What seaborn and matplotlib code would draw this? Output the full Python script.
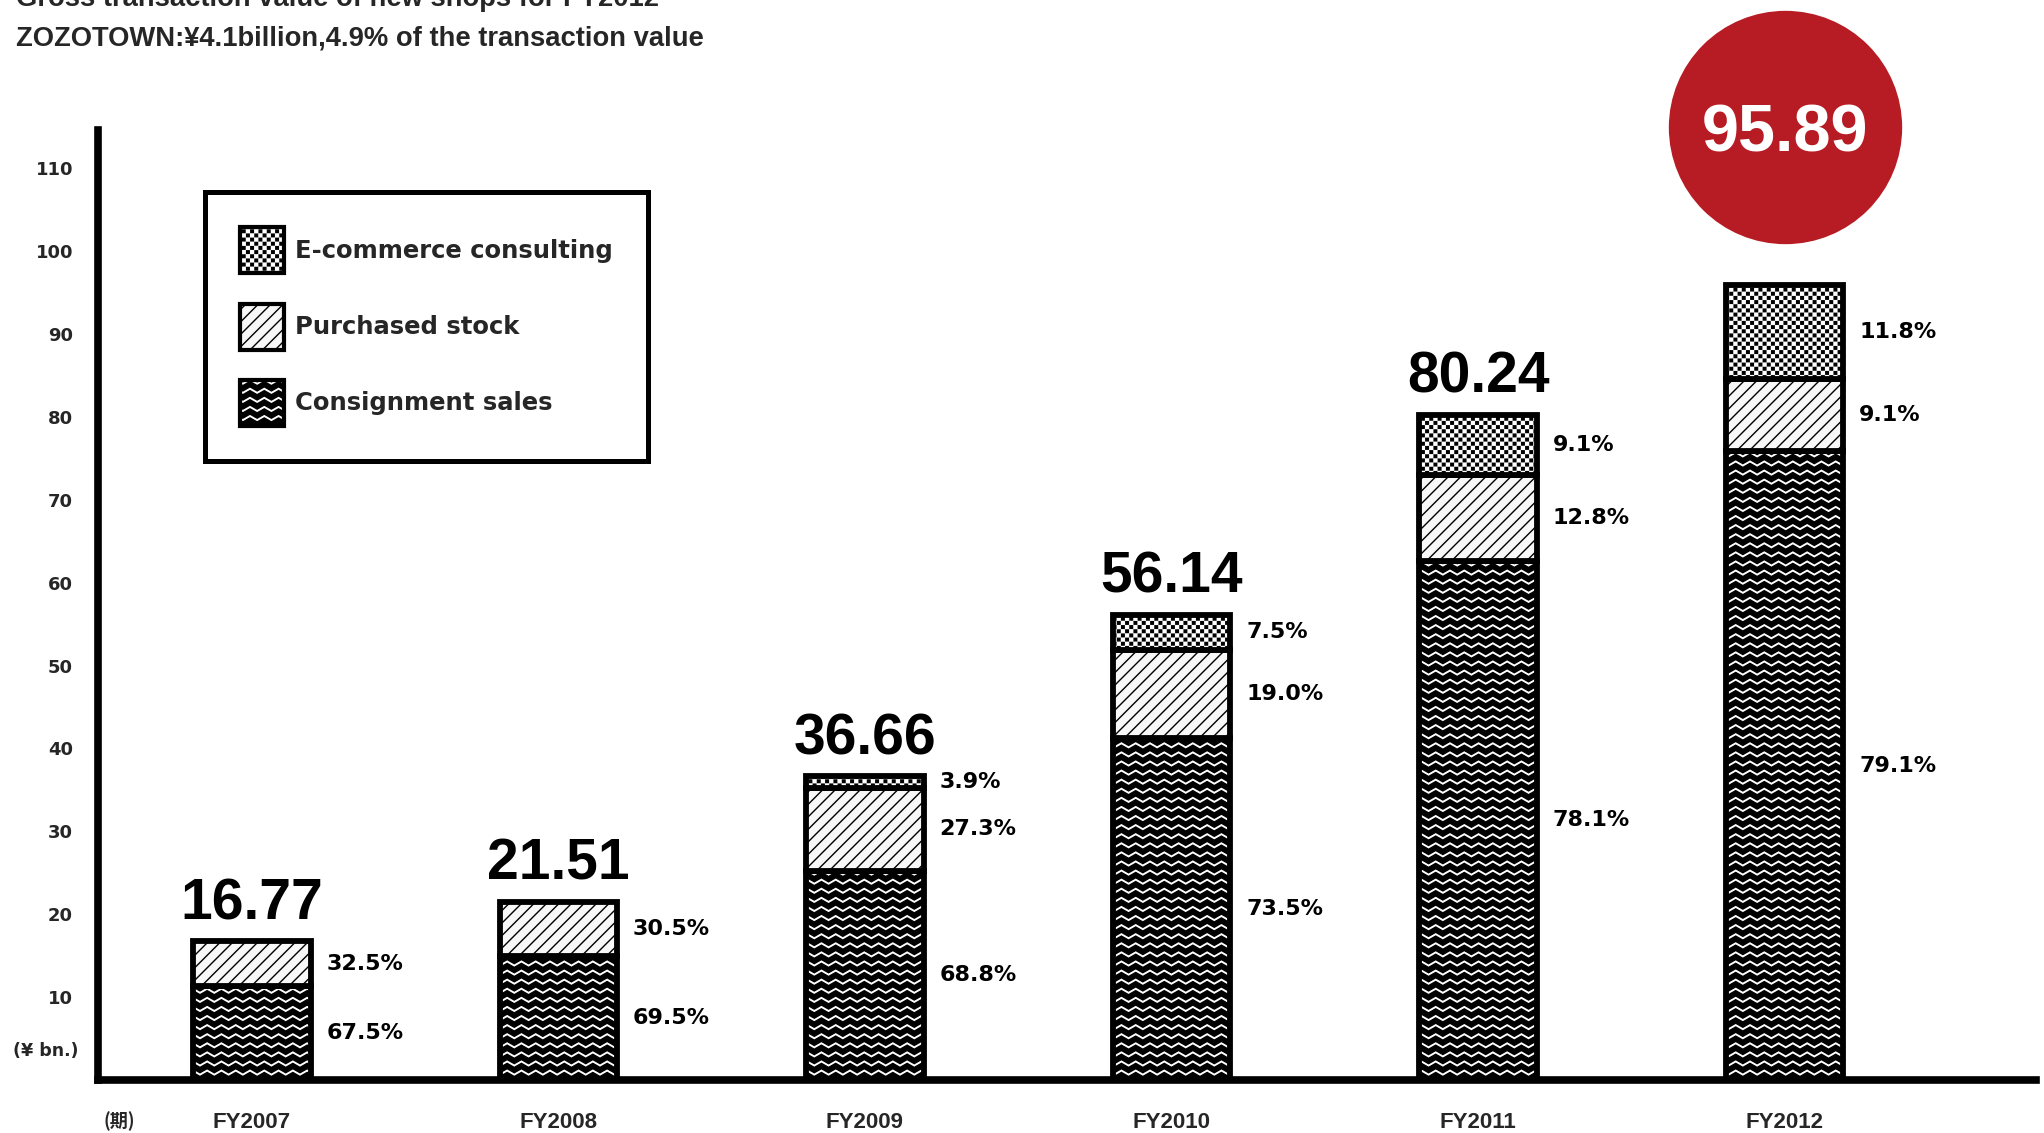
import numpy as np
import pandas as pd
import matplotlib
matplotlib.use("Agg")
import matplotlib.pyplot as plt
import matplotlib.hatch as mhatch
import matplotlib.patches as mpatches
from matplotlib.path import Path
from matplotlib import font_manager as fm
import seaborn as sns

# ---------------------------------------------------------------- data
years = ["FY2007", "FY2008", "FY2009", "FY2010", "FY2011", "FY2012"]
totals = [16.77, 21.51, 36.66, 56.14, 80.24, 95.89]          # ¥ bn.
consignment_pct = [67.5, 69.5, 68.8, 73.5, 78.1, 79.1]
purchased_pct = [32.5, 30.5, 27.3, 19.0, 12.8, 9.1]
ecommerce_pct = [0.0, 0.0, 3.9, 7.5, 9.1, 11.8]
y_ticks = [10, 20, 30, 40, 50, 60, 70, 80, 90, 100, 110]
segment_names = ["Consignment sales", "Purchased stock", "E-commerce consulting"]
title_lines = ["Gross transaction value of new shops for FY2012",
               "ZOZOTOWN:\u00a54.1billion,4.9% of the transaction value"]
unit_label = "(\u00a5 bn.)"
period_label = "(期)"


# ---------------------------------------------------------------- custom hatch patterns
class ZigzagHatch(mhatch.HatchPatternBase):
    """'*' -> filled chevron bands (consignment sales)."""
    def __init__(self, hatch, density):
        self.polys = []
        if hatch.count("*"):
            cols, rows = 7, 11
            pv = 1.0 / rows
            amp, thick = 0.45 * pv, 0.58 * pv
            xs = np.linspace(0, 1, 2 * cols + 1)
            zig = np.where(np.arange(2 * cols + 1) % 2 == 0, 0.0, amp)
            for j in range(-1, rows + 1):
                base = j * pv
                lower = np.column_stack([xs, base + zig])
                upper = np.column_stack([xs[::-1], base + zig[::-1] + thick])
                self.polys.append(np.vstack([lower, upper, lower[:1]]))
        self.num_vertices = sum(len(p) for p in self.polys)

    def set_vertices_and_codes(self, vertices, codes):
        cur = 0
        for p in self.polys:
            k = len(p)
            vertices[cur:cur + k] = p
            codes[cur] = Path.MOVETO
            codes[cur + 1:cur + k - 1] = Path.LINETO
            codes[cur + k - 1] = Path.CLOSEPOLY
            cur += k


class CheckerHatch(mhatch.HatchPatternBase):
    """'.' -> small checkerboard squares (e-commerce consulting)."""
    def __init__(self, hatch, density):
        self.polys = []
        if hatch.count("."):
            n = 12
            cell = 1.0 / n
            half = cell / 2
            s = 0.026
            for i in range(n):
                for j in range(2 * n):
                    x0 = i * cell + (half if j % 2 else 0.0) + (half - s) / 2
                    y0 = j * half + (half - s) / 2
                    self.polys.append(np.array([[x0, y0], [x0 + s, y0], [x0 + s, y0 + s],
                                                [x0, y0 + s], [x0, y0]]))
        self.num_vertices = sum(len(p) for p in self.polys)

    set_vertices_and_codes = ZigzagHatch.set_vertices_and_codes


class DiagonalHatch(mhatch.HatchPatternBase):
    """'o' -> thin 45 degree lines (purchased stock)."""
    def __init__(self, hatch, density):
        self.n = 8 if hatch.count("o") else 0
        self.num_vertices = (2 * self.n + 1) * 2 if self.n else 0

    def set_vertices_and_codes(self, vertices, codes):
        offs = np.arange(-self.n, self.n + 1) / self.n
        vertices[0::2, 0] = offs
        vertices[0::2, 1] = 0.0
        vertices[1::2, 0] = offs + 1.0
        vertices[1::2, 1] = 1.0
        codes[0::2] = Path.MOVETO
        codes[1::2] = Path.LINETO


mhatch._hatch_types[:] = [t for t in mhatch._hatch_types
                          if t.__name__ not in ("Stars", "SmallFilledCircles", "SmallCircles")]
mhatch._hatch_types.extend([ZigzagHatch, CheckerHatch, DiagonalHatch])

# ---------------------------------------------------------------- fonts
_names = {f.name for f in fm.fontManager.ttflist}
if "Liberation Sans Narrow" in _names:
    NARROW, WSCALE = "Liberation Sans Narrow", 1.0
else:
    NARROW, WSCALE = "Liberation Sans", 0.82

sns.set_style("white")
plt.rcParams["font.family"] = ["DejaVu Sans"]
plt.rcParams["hatch.linewidth"] = 1.0
plt.rcParams["hatch.color"] = "black"

W, H = 2044, 1133
fig = plt.figure(figsize=(W / 100, H / 100), dpi=100)
ax = fig.add_axes([98 / W, 53 / H, (2036 - 98) / W, 950 / H])

# ---------------------------------------------------------------- stacked bars
segments = [
    (segment_names[0], consignment_pct, "*", "white"),
    (segment_names[1], purchased_pct, "o", "#f8f8f8"),
    (segment_names[2], ecommerce_pct, ".", "white"),
]
tot = np.array(totals)
bottom = np.zeros(len(years))
for name, pcts, hatch, face in segments:
    pct = np.array(pcts)
    heights = tot * pct / 100.0
    mask = heights > 0
    df = pd.DataFrame({"year": np.array(years)[mask], "value": heights[mask]})
    sns.barplot(data=df, x="year", y="value", order=years, width=0.383,
                bottom=bottom[mask], color=face, saturation=1, errorbar=None,
                hatch=hatch, edgecolor="black", linewidth=4.2, ax=ax, zorder=3)
    for i in np.where(mask)[0]:
        ax.text(i + 0.243, bottom[i] + heights[i] / 2, f"{pct[i]:.1f}%",
                ha="left", va="center", fontsize=16, fontweight="bold",
                family="DejaVu Sans", color="black")
    bottom = bottom + heights

# totals above the bars; the latest year sits in a red badge
for i, t in enumerate(totals[:-1]):
    ax.annotate(f"{t:.2f}", (i, t), xytext=(0, 15.8), textcoords="offset points",
                ha="center", va="baseline", fontsize=50 * WSCALE,
                fontweight="bold", family=NARROW, color="black")

last = len(totals) - 1
ax.scatter([last], [114.96], s=168 ** 2, color="#b71c24", linewidths=0,
           clip_on=False, zorder=6)
ax.annotate(f"{totals[-1]:.2f}", (last, 114.96), xytext=(0, -17.3),
            textcoords="offset points", ha="center", va="baseline",
            fontsize=48, fontweight="bold", family="Liberation Sans",
            color="white", zorder=7, annotation_clip=False)

# ---------------------------------------------------------------- axes
ax.set_xlim(-0.502, 5.82)
ax.set_ylim(0, 114.6)
ax.set_yticks(y_ticks)
ax.set_yticklabels([str(v) for v in y_ticks])
ax.set_xlabel("")
ax.set_ylabel("")
for side in ("top", "right"):
    ax.spines[side].set_visible(False)
for side in ("left", "bottom"):
    ax.spines[side].set_linewidth(5.5)
    ax.spines[side].set_color("black")
    ax.spines[side].set_zorder(4)
ax.tick_params(axis="y", length=0, pad=18)
ax.tick_params(axis="x", length=0, pad=23)
for lab in ax.get_yticklabels():
    lab.set_fontsize(13)
    lab.set_fontweight("bold")
    lab.set_family("DejaVu Sans")
for lab in ax.get_xticklabels():
    lab.set_fontsize(19.5 * WSCALE)
    lab.set_fontweight("bold")
    lab.set_family(NARROW)
ax.grid(False)

# ---------------------------------------------------------------- legend
handles = []
for name, pcts, hatch, face in reversed(segments):
    handles.append(mpatches.Patch(facecolor=face, hatch=hatch, edgecolor="black",
                                  linewidth=3.0, label=name))
leg = ax.legend(handles=handles, loc="upper left", bbox_to_anchor=(0.0552, 0.9347),
                borderaxespad=0, frameon=True, fancybox=False, edgecolor="black",
                framealpha=1, prop=dict(family="DejaVu Sans", weight="bold", size=17.5),
                handlelength=1.8, handleheight=2.53, labelspacing=1.25,
                borderpad=1.45, handletextpad=0.45)
leg.get_frame().set_linewidth(3.6)

# ---------------------------------------------------------------- titles and units
fig.text(16 / W, 1 - 6 / H, title_lines[0], ha="left", va="baseline",
         fontsize=24 * WSCALE, fontweight="bold", family=NARROW)
fig.text(16 / W, 1 - 46 / H, title_lines[1], ha="left", va="baseline",
         fontsize=24 * WSCALE, fontweight="bold", family=NARROW)
fig.text(46 / W, 1 - 1051 / H, unit_label, ha="center", va="center",
         fontsize=12.5, fontweight="bold", family="DejaVu Sans")
fig.text(119 / W, 1 - 1121 / H, period_label, ha="center", va="center",
         fontsize=13, fontweight="bold", family=["Noto Sans CJK JP", "DejaVu Sans"])

fig.savefig("out.png", dpi=100, facecolor="white")
